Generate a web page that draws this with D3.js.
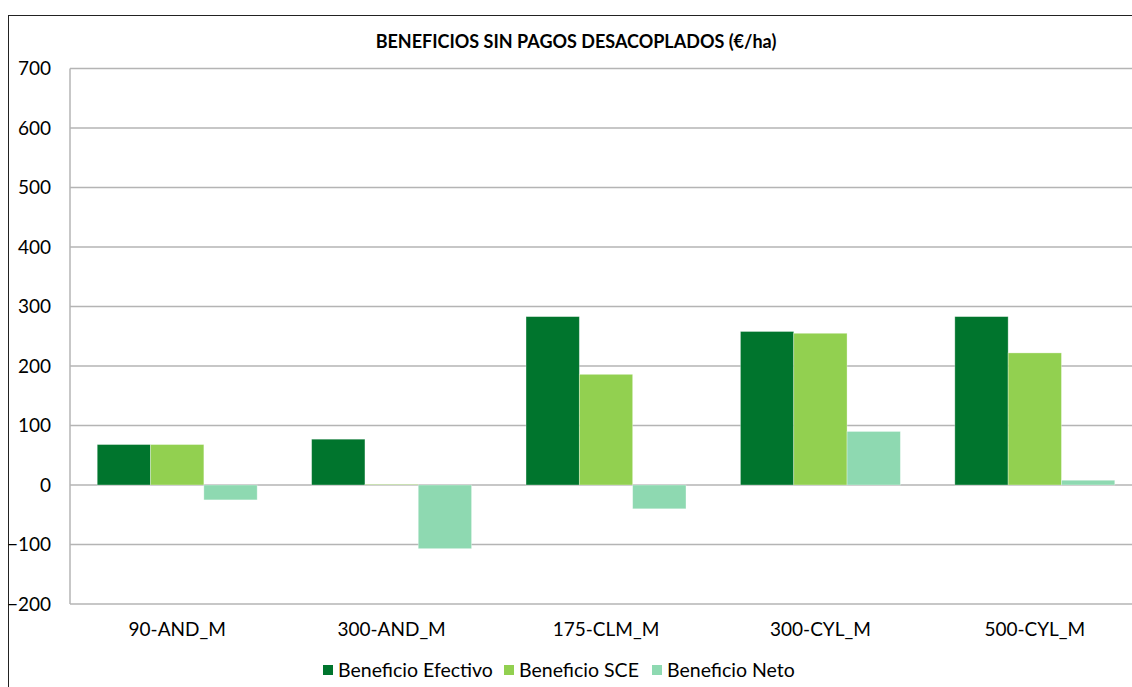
<!DOCTYPE html>
<html><head><meta charset="utf-8">
<script src="https://cdn.jsdelivr.net/npm/d3@7"></script>
<style>body{margin:0;background:#fff;overflow:hidden}svg{display:block}text{font-family:Lato,"Open Sans",sans-serif}</style>
</head><body><svg id="c" width="1132" height="687"></svg>
<script>
const categories = ["90-AND_M","300-AND_M","175-CLM_M","300-CYL_M","500-CYL_M"];
const series = ["Beneficio Efectivo","Beneficio SCE","Beneficio Neto"];
const efectivo = [68, 77, 283, 258, 283];
const sce = [68, 1, 186, 255, 222];
const neto = [-25, -107, -40, 90, 8];
const yTicks = [-200,-100,0,100,200,300,400,500,600,700];
const colors = ["#00752d","#92d050","#8ed9b1"];
const values = [efectivo, sce, neto];

const svg = d3.select("#c");
const m = {l:70, t:68.5, r:1142, b:604};
svg.append("rect").attr("x",8.5).attr("y",15.5).attr("width",1140).attr("height",700).attr("fill","none").attr("stroke","#222").attr("stroke-width",1);

const x = d3.scaleBand().domain(categories).range([m.l, m.r]).paddingInner(0.254).paddingOuter(0.127);
const xs = d3.scaleBand().domain(series).range([0, x.bandwidth()]);
const y = d3.scaleLinear().domain([-200,700]).range([m.b, m.t]);

const grid = svg.append("g");
grid.selectAll("line").data(yTicks).join("line")
  .attr("x1", m.l).attr("x2", m.r).attr("y1", d=>y(d)).attr("y2", d=>y(d))
  .attr("stroke","#b4b4b4").attr("stroke-width",1.5);
svg.append("line").attr("x1",m.l).attr("x2",m.l).attr("y1",m.t).attr("y2",m.b).attr("stroke","#b4b4b4").attr("stroke-width",1.5);

const yAxis = d3.axisLeft(y).tickValues(yTicks).tickSize(0).tickPadding(19);
const ga = svg.append("g").attr("transform",`translate(${m.l},0)`).call(yAxis);
ga.select(".domain").remove();
ga.selectAll("text").attr("font-size",19).attr("fill","#000").attr("font-family","Lato,sans-serif");

const groups = svg.append("g").selectAll("g").data(categories).join("g")
  .attr("transform", d=>`translate(${x(d)},0)`);
groups.selectAll("rect").data((c,i)=>series.map((s,j)=>({s, v: values[j][i], j}))).join("rect")
  .attr("x", d=>xs(d.s)).attr("width", xs.bandwidth())
  .attr("y", d=>y(Math.max(0,d.v))).attr("height", d=>Math.abs(y(d.v)-y(0)))
  .attr("fill", d=>colors[d.j]).attr("stroke","#ffffff").attr("stroke-opacity",0.4).attr("stroke-width",0.8);

const xAxis = d3.axisBottom(x).tickSize(0).tickPadding(19);
const gx = svg.append("g").attr("transform",`translate(0,${m.b})`).call(xAxis);
gx.select(".domain").remove();
gx.selectAll("text").attr("font-size",19).attr("fill","#000").attr("font-family","Lato,sans-serif");

svg.append("text").attr("x",576).attr("y",48).attr("text-anchor","middle")
  .attr("font-size",18).attr("font-weight","bold").text("BENEFICIOS SIN PAGOS DESACOPLADOS (€/ha)");

const legX = [323, 504, 652];
const lg = svg.append("g").selectAll("g").data(series).join("g")
  .attr("transform",(d,i)=>`translate(${legX[i]},665)`);
lg.append("rect").attr("width",10).attr("height",10).attr("fill",(d,i)=>colors[i]);
lg.append("text").attr("x",15).attr("y",12).attr("font-size",19.5).text(d=>d);
</script></body></html>
